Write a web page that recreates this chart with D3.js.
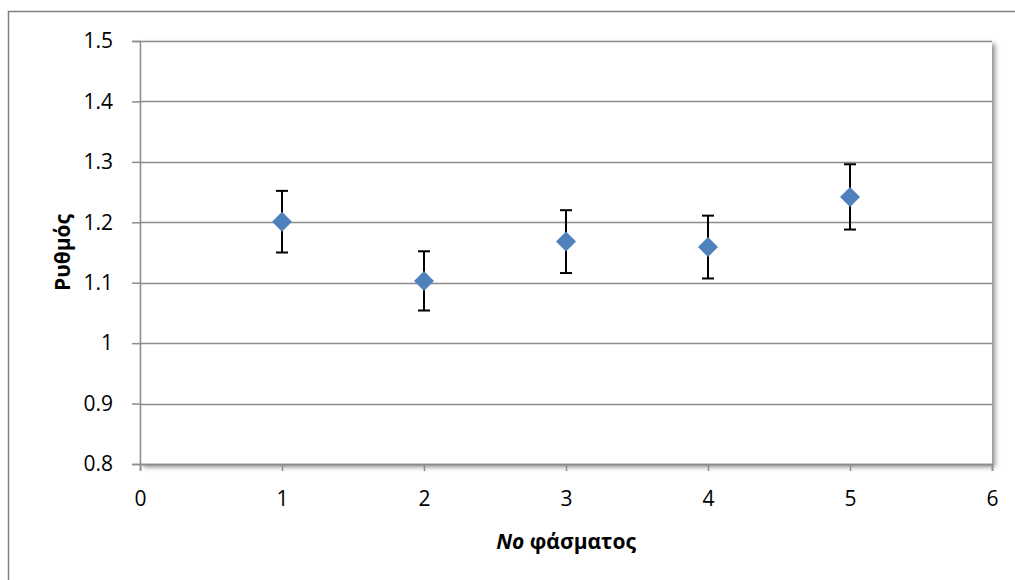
<!DOCTYPE html>
<html>
<head>
<meta charset="utf-8">
<script src="https://cdn.jsdelivr.net/npm/d3@7"></script>
<style>
  body { margin: 0; background: #fff; }
  svg { display: block; font-family: "Open Sans", "Noto Sans", sans-serif; }
</style>
</head>
<body>
<div id="chart"></div>
<script>
// spectrum number, rate and error half-width
const spectra = [1, 2, 3, 4, 5]
const rates = [1.201, 1.103, 1.168, 1.159, 1.242]
const errors = [0.051, 0.049, 0.052, 0.052, 0.054]
const xTicks = [0, 1, 2, 3, 4, 5, 6]
const yTicks = [0.8, 0.9, 1.0, 1.1, 1.2, 1.3, 1.4, 1.5]

const width = 1015
const height = 580
const margin = { top: 41, right: 23, bottom: 116, left: 140 }
const innerW = width - margin.left - margin.right
const innerH = height - margin.top - margin.bottom

const svg = d3.select("#chart")
  .append("svg")
  .attr("width", width)
  .attr("height", height)

// Outer chart border (only top and left edges visible)
svg.append("rect")
  .attr("x", 8.5).attr("y", 11.5)
  .attr("width", 1020).attr("height", 600)
  .attr("fill", "none")
  .attr("stroke", "#7f7f7f")
  .attr("stroke-width", 1.5)

const defs = svg.append("defs")
const shadow = defs.append("filter").attr("id", "shadow")
  .attr("x", "-5%").attr("y", "-5%").attr("width", "115%").attr("height", "115%")
shadow.append("feDropShadow")
  .attr("dx", 3).attr("dy", 3).attr("stdDeviation", 2.5)
  .attr("flood-color", "#000").attr("flood-opacity", 0.45)

const x = d3.scaleLinear().domain([0, 6]).range([0, innerW])
const y = d3.scaleLinear().domain([0.8, 1.5]).range([innerH, 0])

const g = svg.append("g").attr("transform", `translate(${margin.left},${margin.top})`)

// Plot area with shadow
g.append("rect")
  .attr("width", innerW).attr("height", innerH)
  .attr("fill", "#fff")
  .attr("filter", "url(#shadow)")

// Horizontal gridlines
g.append("g")
  .selectAll("line")
  .data(yTicks)
  .join("line")
  .attr("x1", 0).attr("x2", innerW)
  .attr("y1", d => Math.round(y(d)) + 0.5)
  .attr("y2", d => Math.round(y(d)) + 0.5)
  .attr("stroke", "#8c8c8c")
  .attr("stroke-width", 1.5)

// Y axis
const yAxis = g.append("g")
  .call(d3.axisLeft(y).tickValues(yTicks).tickSize(8).tickPadding(19)
    .tickFormat(d => d === 1 ? "1" : d3.format(".1f")(d)))
yAxis.select(".domain").attr("stroke", "#8c8c8c").attr("stroke-width", 1.5)
yAxis.selectAll(".tick line").attr("stroke", "#8c8c8c").attr("stroke-width", 1.5)
yAxis.selectAll(".tick text")
  .attr("font-size", 21).attr("fill", "#000")
  .attr("font-family", "'Open Sans', sans-serif")

// X axis
const xAxis = g.append("g")
  .attr("transform", `translate(0,${innerH})`)
  .call(d3.axisBottom(x).tickValues(xTicks).tickSize(7).tickPadding(20).tickFormat(d3.format("d")))
xAxis.select(".domain").attr("stroke", "#8c8c8c").attr("stroke-width", 1.5)
xAxis.selectAll(".tick line").attr("stroke", "#8c8c8c").attr("stroke-width", 1.5)
xAxis.selectAll(".tick text")
  .attr("font-size", 21).attr("fill", "#000")
  .attr("font-family", "'Open Sans', sans-serif")

const pts = spectra.map((s, i) => ({ s, v: rates[i], e: errors[i] }))

// Error bars
const eb = g.append("g").attr("stroke", "#000").attr("stroke-width", 2)
eb.selectAll("line.stem")
  .data(pts).join("line")
  .attr("class", "stem")
  .attr("x1", d => x(d.s)).attr("x2", d => x(d.s))
  .attr("y1", d => y(d.v + d.e)).attr("y2", d => y(d.v - d.e))
eb.selectAll("line.capTop")
  .data(pts).join("line")
  .attr("class", "capTop")
  .attr("x1", d => x(d.s) - 6).attr("x2", d => x(d.s) + 6)
  .attr("y1", d => y(d.v + d.e)).attr("y2", d => y(d.v + d.e))
eb.selectAll("line.capBot")
  .data(pts).join("line")
  .attr("class", "capBot")
  .attr("x1", d => x(d.s) - 6).attr("x2", d => x(d.s) + 6)
  .attr("y1", d => y(d.v - d.e)).attr("y2", d => y(d.v - d.e))

// Diamond markers
g.append("g")
  .selectAll("path")
  .data(pts).join("path")
  .attr("transform", d => `translate(${x(d.s)},${y(d.v)})`)
  .attr("d", "M0,-10L10,0L0,10L-10,0Z")
  .attr("fill", "#4f81bd")

// Axis titles
svg.append("text")
  .attr("transform", `translate(70,${margin.top + innerH / 2}) rotate(-90)`)
  .attr("text-anchor", "middle")
  .attr("font-size", 21)
  .attr("font-weight", "bold")
  .attr("fill", "#000")
  .text("Ρυθμός")

const xt = svg.append("text")
  .attr("x", margin.left + innerW / 2)
  .attr("y", 549)
  .attr("text-anchor", "middle")
  .attr("font-size", 21)
  .attr("font-weight", "bold")
  .attr("fill", "#000")
xt.append("tspan").attr("font-style", "italic").text("No")
xt.append("tspan").text(" φάσματος")
</script>
</body>
</html>
